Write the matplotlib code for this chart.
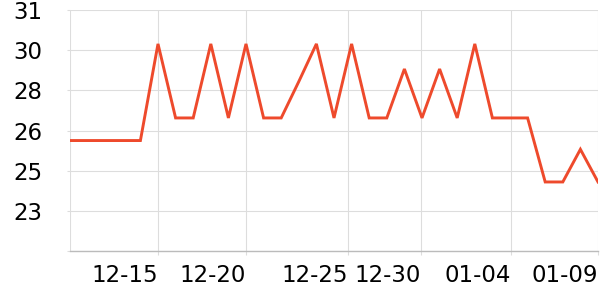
import matplotlib
matplotlib.use("Agg")
from matplotlib import pyplot as plt
import numpy as np

# daily values, 12-10 .. 01-09
dates = ["12-10", "12-11", "12-12", "12-13", "12-14", "12-15", "12-16", "12-17",
         "12-18", "12-19", "12-20", "12-21", "12-22", "12-23", "12-24", "12-25",
         "12-26", "12-27", "12-28", "12-29", "12-30", "12-31", "01-01", "01-02",
         "01-03", "01-04", "01-05", "01-06", "01-07", "01-08", "01-09"]
values = [26.0, 26.0, 26.0, 26.0, 26.0, 29.85, 26.9, 26.9, 29.85, 26.9,
          29.85, 26.9, 26.9, 28.35, 29.85, 26.9, 29.85, 26.9, 26.9, 28.85,
          26.9, 28.85, 26.9, 29.85, 26.9, 26.9, 26.9, 24.35, 24.35, 25.65,
          24.35]

# ticks as drawn in the reference (labels sit just left of their gridline)
tick_pos = [5, 10, 15.8, 19.95, 25.05, 30]
tick_labels = ["12-15", "12-20", "12-25", "12-30", "01-04", "01-09"]
y_ticks = [21.6, 23.2, 24.8, 26.4, 28.0, 29.6, 31.2]

fig = plt.figure(figsize=(6, 3), dpi=100)
ax = fig.add_axes([70 / 600, 1 - 251 / 300, 528 / 600, 241 / 300])

x = np.arange(len(values))
ax.plot(x, values, color="#ee4a2c", linewidth=2.1, solid_joinstyle="miter", zorder=3)

ax.set_xlim(0, len(values) - 1)
ax.set_ylim(y_ticks[0], y_ticks[-1])

ax.set_yticks(y_ticks)
ax.set_yticklabels(["" if i == 0 else str(int(round(v))) for i, v in enumerate(y_ticks)])
ax.set_xticks(tick_pos)
ax.set_xticklabels(tick_labels, ha="right")

for s in ["top", "right", "left"]:
    ax.spines[s].set_visible(False)
ax.spines["bottom"].set_color("#bbbbbb")
ax.spines["bottom"].set_linewidth(1)

ax.grid(True, color="#dddddd", linewidth=0.8)
ax.axvline(0, color="#dddddd", linewidth=0.8, zorder=1)
ax.tick_params(axis="y", length=2, color="#dddddd", labelsize=16.5, pad=18)
ax.tick_params(axis="x", length=3, color="#dddddd", labelsize=16.5, pad=6)
ax.set_axisbelow(True)

fig.savefig("out.png", dpi=100)
